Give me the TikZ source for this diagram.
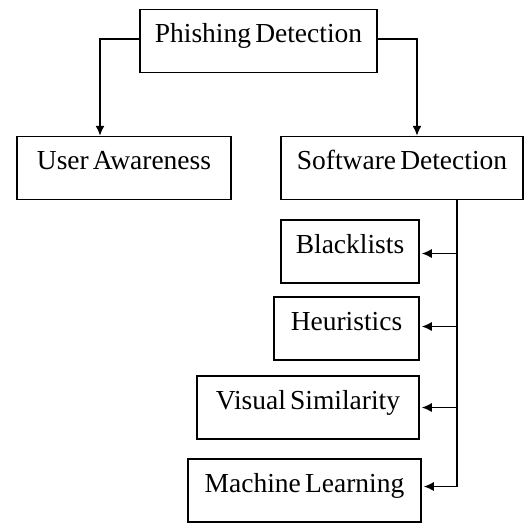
\documentclass[tikz,border=0pt]{standalone}
\usepackage{fontspec}
\setmainfont[WordSpace=0.6]{Liberation Serif}
\usetikzlibrary{arrows.meta}
\begin{document}
\begin{tikzpicture}[x=1pt,y=-1pt,
    box/.style={rectangle, draw, line width=1.5pt, inner xsep=0pt,
      inner ysep=0pt, text height=33pt, text depth=30pt,
      font=\fontsize{27.5pt}{30pt}\selectfont},
    arr/.style={line width=1.5pt, -{Latex[length=10pt,width=9pt]}}]
    \useasboundingbox (0,0) rectangle (528,523);
    \node (ph) at (258.5,41) [box, minimum width=237pt] {Phishing Detection};
    \node (ua) at (124,168) [box, minimum width=214pt] {User Awareness};
    \node (sd) at (402,168) [box, minimum width=242pt] {Software Detection};
    \node (bl) at (350,251.5) [box, minimum width=138pt] {Blacklists};
    \node (he) at (346.5,328.5) [box, minimum width=145pt] {Heuristics};
    \node (vs) at (308,407.5) [box, minimum width=222pt] {Visual Similarity};
    \node (ml) at (304.5,490.5) [box, minimum width=233pt] {Machine Learning};
    \draw[arr] ([yshift=2pt]ph.west) -| ([xshift=-24pt]ua.north);
    \draw[arr] ([yshift=2pt]ph.east) -| ([xshift=15pt]sd.north);
    \coordinate (tr) at ([xshift=55pt]sd.south);
    \draw[arr] (tr) |- ([xshift=2pt,yshift=-2pt]bl.east);
    \draw[arr] (tr) |- ([xshift=2pt,yshift=2pt]he.east);
    \draw[arr] (tr) |- ([xshift=2pt]vs.east);
    \draw[arr] (tr) |- ([xshift=2pt,yshift=4pt]ml.east);
\end{tikzpicture}
\end{document}
